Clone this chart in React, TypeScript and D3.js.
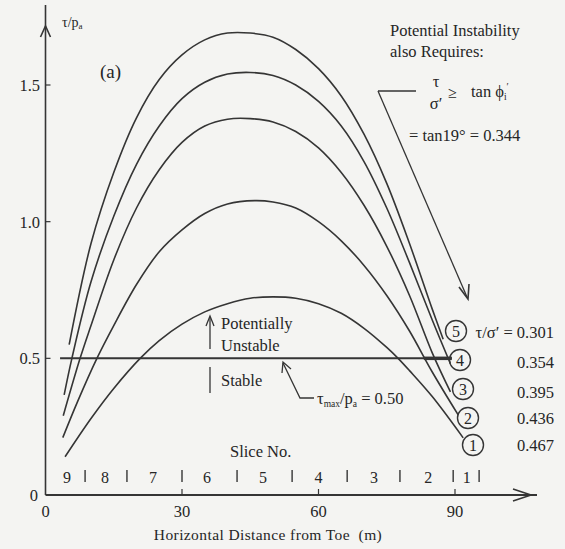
import React from "react";
import * as d3 from "d3";

// tau/pa along the slip surface
const curve1X = [4.3, 10, 15, 20.8, 25, 30, 35, 40, 45, 50, 55, 60, 65, 70, 75, 77.5, 80, 85, 91.8];
const curve1Y = [0.14, 0.28, 0.39, 0.5, 0.565, 0.625, 0.67, 0.7, 0.72, 0.725, 0.72, 0.7, 0.665, 0.61, 0.54, 0.5, 0.455, 0.36, 0.209];
const curve2X = [3.8, 7, 11.3, 15, 20, 25, 30, 35, 40, 46, 50, 55, 60, 65, 70, 75, 80, 85, 90.7];
const curve2Y = [0.21, 0.34, 0.5, 0.62, 0.77, 0.89, 0.97, 1.03, 1.065, 1.077, 1.072, 1.05, 1.0, 0.93, 0.84, 0.73, 0.6, 0.45, 0.293];
const curve3X = [3.9, 7.6, 10, 15, 20, 25, 30, 35, 40, 45, 50, 55, 60, 65, 70, 75, 80, 85, 89];
const curve3Y = [0.29, 0.5, 0.62, 0.86, 1.05, 1.19, 1.29, 1.35, 1.375, 1.377, 1.365, 1.33, 1.27, 1.18, 1.06, 0.91, 0.73, 0.52, 0.377];
const curve4X = [4.1, 5.8, 10, 15, 20, 25, 30, 35, 40, 45, 50, 55, 60, 65, 70, 75, 80, 85, 89];
const curve4Y = [0.366, 0.5, 0.78, 1.02, 1.21, 1.35, 1.45, 1.51, 1.54, 1.546, 1.535, 1.5, 1.44, 1.35, 1.22, 1.05, 0.85, 0.64, 0.48];
const curve5X = [5.2, 10, 15, 20, 25, 30, 35, 40, 45, 50, 55, 60, 65, 70, 75, 80, 85, 87.4];
const curve5Y = [0.55, 0.92, 1.18, 1.38, 1.52, 1.61, 1.665, 1.69, 1.69, 1.675, 1.63, 1.56, 1.46, 1.32, 1.14, 0.92, 0.68, 0.57];

const curveIds = ["1", "2", "3", "4", "5"];
const stressRatios = ["0.467", "0.436", "0.395", "0.354", "0.301"];

const xTicks = [0, 30, 60, 90];
const yTicks = [0, 0.5, 1.0, 1.5];
const yTickLabels = ["0", "0.5", "1.0", "1.5"];

const sliceNumbers = ["9", "8", "7", "6", "5", "4", "3", "2", "1"];
const sliceCenters = [4.7, 13.1, 23.6, 35.5, 47.8, 60, 72.2, 84.1, 92.6];
const sliceBounds = [8.7, 17.9, 30, 42.1, 54.2, 66.3, 77.9, 89.6, 95.3];

const tauMaxLevel = 0.5;
const tauMaxRange = [3.2, 89.3];

const W = 565;
const H = 549;
const ink = "#353535";
const txt = "#262626";
const font = "'Liberation Serif', 'DejaVu Serif', serif";

export default function App() {
  const x = d3.scaleLinear().domain([0, 90]).range([45.5, 455]);
  const y = d3.scaleLinear().domain([0, 1.5]).range([495, 85]);

  const series = [
    { xs: curve1X, ys: curve1Y },
    { xs: curve2X, ys: curve2Y },
    { xs: curve3X, ys: curve3Y },
    { xs: curve4X, ys: curve4Y },
    { xs: curve5X, ys: curve5Y },
  ];

  const line = d3
    .line<[number, number]>()
    .x((d) => x(d[0]))
    .y((d) => y(d[1]))
    .curve(d3.curveCatmullRom.alpha(0.5));

  // circled labels beside the curve ends
  const markPos = [
    [473, 445],
    [468, 418],
    [463, 389],
    [460, 360],
    [456, 331],
  ];
  const ratioBase = [451, 424, 398, 368, 338];

  const x0 = x(0);
  const yZero = y(0);
  const y05 = y(tauMaxLevel);

  return (
    <div style={{ position: "absolute", left: 0, top: 0 }}>
      <svg width={W} height={H} style={{ display: "block", background: "#f4f4f2" }} fontFamily={font}>
        {/* axes */}
        <line x1={x0} y1={yZero} x2={x0} y2={5} stroke={ink} strokeWidth={1.6} />
        <path d={`M${x0 - 5},${37} L${x0},${26} L${x0 + 5},${37}`} fill="none" stroke={ink} strokeWidth={1.6} />
        <line x1={x0} y1={yZero} x2={537} y2={yZero} stroke={ink} strokeWidth={1.8} />
        <path d={`M${513},${489} L${531},${yZero} L${513},${501}`} fill="none" stroke={ink} strokeWidth={1.6} />

        {yTicks.slice(1).map((t) => (
          <line key={`yt${t}`} x1={x0} x2={x0 + 5} y1={y(t)} y2={y(t)} stroke={ink} strokeWidth={1.2} />
        ))}
        {xTicks.slice(1).map((t) => (
          <line key={`xt${t}`} x1={x(t)} x2={x(t)} y1={yZero} y2={yZero - 6} stroke={ink} strokeWidth={1.2} />
        ))}
        {yTicks.map((t, i) => (
          <text key={`yl${t}`} x={i === 0 ? 38 : 40} y={y(t) + 6} fontSize={16.5} textAnchor="end" fill={txt}>
            {yTickLabels[i]}
          </text>
        ))}
        {xTicks.map((t) => (
          <text key={`xl${t}`} x={x(t)} y={517} fontSize={16.5} textAnchor="middle" fill={txt}>
            {t}
          </text>
        ))}
        <text x={268} y={540} fontSize={15.5} letterSpacing={0.4} textAnchor="middle" fill={txt} xmlSpace="preserve">
          Horizontal Distance from Toe  (m)
        </text>
        <text x={62} y={27} fontSize={14} fill={txt}>
          τ/p<tspan fontSize={9} dy={2}>a</tspan>
        </text>
        <text x={100} y={78} fontSize={19} fill={txt}>(a)</text>

        {/* curves */}
        {series.map((s, i) => (
          <path
            key={`c${i}`}
            d={line(s.xs.map((v, j) => [v, s.ys[j]] as [number, number])) || ""}
            fill="none"
            stroke={ink}
            strokeWidth={1.6}
          />
        ))}

        {/* tau max line */}
        <line x1={x(tauMaxRange[0])} x2={x(tauMaxRange[1])} y1={y05} y2={y05} stroke={ink} strokeWidth={2} />
        <line x1={x(tauMaxRange[1]) - 28} x2={x(tauMaxRange[1])} y1={y05} y2={y05} stroke={ink} strokeWidth={3.5} />

        {/* stable / unstable */}
        <line x1={210} x2={210} y1={349} y2={318} stroke={ink} strokeWidth={1.3} />
        <path d="M206,326 L210,316 L214,326" fill="none" stroke={ink} strokeWidth={1.3} />
        <line x1={210} x2={210} y1={367} y2={393} stroke={ink} strokeWidth={1.3} />
        <text x={221} y={329} fontSize={16.5} fill={txt}>Potentially</text>
        <text x={221} y={351} fontSize={16.5} fill={txt}>Unstable</text>
        <text x={221} y={386} fontSize={16.5} fill={txt}>Stable</text>

        {/* tau max label */}
        <path d="M283,363 L300,398 L314,398" fill="none" stroke={ink} strokeWidth={1.3} />
        <path d="M282,373 L283,362 L291,369" fill="none" stroke={ink} strokeWidth={1.3} />
        <text x={317} y={404} fontSize={16.5} fill={txt}>
          τ<tspan fontSize={9.5} dy={3}>max</tspan>
          <tspan dy={-3}>/p</tspan>
          <tspan fontSize={9.5} dy={3}>a</tspan>
          <tspan dy={-3}> = 0.50</tspan>
        </text>

        {/* slice numbers */}
        <text x={230} y={457} fontSize={16.5} fill={txt}>Slice No.</text>
        {sliceNumbers.map((n, i) => (
          <text key={`sn${n}`} x={x(sliceCenters[i])} y={483} fontSize={16} textAnchor="middle" fill={txt}>
            {n}
          </text>
        ))}
        {sliceBounds.map((b) => (
          <line key={`sb${b}`} x1={x(b)} x2={x(b)} y1={470} y2={482} stroke={ink} strokeWidth={1.4} />
        ))}

        {/* curve labels */}
        {curveIds.map((id, i) => (
          <g key={`m${id}`}>
            <circle cx={markPos[i][0]} cy={markPos[i][1]} r={10.5} fill="none" stroke={ink} strokeWidth={1.4} />
            <text x={markPos[i][0]} y={markPos[i][1] + 5.5} fontSize={16} textAnchor="middle" fill={txt}>
              {id}
            </text>
            <text x={554} y={ratioBase[i]} fontSize={16.5} textAnchor="end" fill={txt}>
              {i === 4 ? "τ/σ′ = " + stressRatios[i] : stressRatios[i]}
            </text>
          </g>
        ))}

        {/* requirement note */}
        <text x={390} y={36} fontSize={16.5} fill={txt}>Potential Instability</text>
        <text x={390} y={57} fontSize={16.5} fill={txt}>also Requires:</text>
        <text x={436} y={87} fontSize={16.5} textAnchor="middle" fill={txt}>τ</text>
        <text x={436} y={109} fontSize={16.5} textAnchor="middle" fill={txt}>σ′</text>
        <text x={448} y={98} fontSize={16} fill={txt}>≥</text>
        <text x={471} y={97} fontSize={16.5} fill={txt}>
          tan ϕ<tspan fontSize={9.5} dy={3}>i</tspan>
          <tspan fontSize={10} dy={-10}>′</tspan>
        </text>
        <text x={409} y={141} fontSize={16.5} fill={txt}>= tan19° = 0.344</text>
        <line x1={378} y1={91} x2={416} y2={91} stroke={ink} strokeWidth={1.3} />
        <line x1={378} y1={91} x2={467} y2={297} stroke={ink} strokeWidth={1.3} />
        <path d="M459,287 L468,299 L469,284" fill="none" stroke={ink} strokeWidth={1.6} />
      </svg>
    </div>
  );
}
